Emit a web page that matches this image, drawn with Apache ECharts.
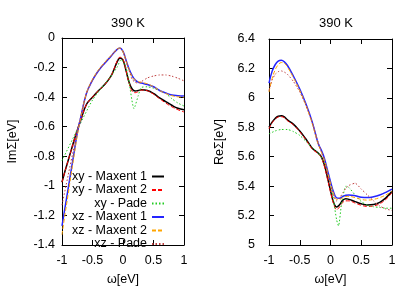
<!DOCTYPE html>
<html>
<head>
<meta charset="utf-8">
<script src="https://cdn.jsdelivr.net/npm/echarts@6/dist/echarts.min.js"></script>
<style>
html, body { margin: 0; padding: 0; background: #fff; }
#chart { width: 415px; height: 291px; }
</style>
</head>
<body>
<div id="chart"></div>
<script>
// common frequency grid for the Maxent curves
const omega = [-1, -0.95, -0.9, -0.85, -0.8, -0.75, -0.7, -0.6, -0.5, -0.4, -0.3, -0.2, -0.15, -0.1, -0.05,
    0, 0.05, 0.1, 0.15, 0.2, 0.25, 0.3, 0.4, 0.5, 0.6, 0.7, 0.8, 0.9, 1];

// Im Sigma (left panel)
const imXyMaxent1 = [-0.975, -0.9, -0.83, -0.76, -0.69, -0.625, -0.565, -0.45, -0.40, -0.355, -0.315, -0.26, -0.215, -0.165, -0.135,
    -0.15, -0.22, -0.30, -0.345, -0.358, -0.355, -0.35, -0.355, -0.375, -0.405, -0.43, -0.455, -0.475, -0.485];
const imXyMaxent2 = [-0.975, -0.9, -0.83, -0.76, -0.69, -0.625, -0.565, -0.45, -0.40, -0.355, -0.315, -0.26, -0.212, -0.16, -0.13,
    -0.145, -0.22, -0.305, -0.36, -0.37, -0.362, -0.352, -0.357, -0.38, -0.41, -0.44, -0.465, -0.485, -0.50];
const imXzMaxent1 = [-1.27, -1.145, -1.02, -0.895, -0.77, -0.645, -0.55, -0.375, -0.285, -0.22, -0.17, -0.125, -0.10, -0.078, -0.068,
    -0.09, -0.15, -0.21, -0.255, -0.285, -0.298, -0.305, -0.315, -0.33, -0.355, -0.372, -0.386, -0.39, -0.392];
const imXzMaxent2 = [-1.33, -1.19, -1.06, -0.92, -0.79, -0.66, -0.555, -0.375, -0.28, -0.215, -0.165, -0.12, -0.098, -0.075, -0.068,
    -0.095, -0.155, -0.215, -0.26, -0.285, -0.295, -0.30, -0.31, -0.33, -0.355, -0.375, -0.39, -0.398, -0.40];
const omegaImXyPade = [-1, -0.75, -0.5, -0.3, -0.2, -0.1, -0.03, 0.05, 0.1, 0.18, 0.25, 0.3, 0.4, 0.5, 0.6, 0.7, 0.8, 0.9, 1];
const imXyPade = [-0.83, -0.62, -0.42, -0.31, -0.26, -0.2, -0.145, -0.2, -0.3, -0.478, -0.39, -0.335, -0.33, -0.34, -0.355, -0.375, -0.41, -0.44, -0.46];
const omegaImXzPade = [-1, -0.9, -0.8, -0.75, -0.7, -0.6, -0.5, -0.4, -0.3, -0.2, -0.1, -0.05, 0, 0.05, 0.1, 0.15, 0.2, 0.25, 0.3, 0.4, 0.5, 0.6, 0.7, 0.8, 0.9, 1];
const imXzPade = [-1.13, -0.93, -0.73, -0.63, -0.545, -0.375, -0.285, -0.22, -0.17, -0.125, -0.078, -0.07, -0.09, -0.15, -0.22, -0.28, -0.30, -0.305, -0.295, -0.27, -0.257, -0.25, -0.25, -0.258, -0.272, -0.29];

// Re Sigma (right panel)
const reXyMaxent1 = [5.80, 5.835, 5.86, 5.875, 5.878, 5.87, 5.85, 5.82, 5.775, 5.72, 5.66, 5.625, 5.60, 5.545, 5.46,
    5.37, 5.29, 5.258, 5.275, 5.305, 5.315, 5.31, 5.295, 5.28, 5.272, 5.275, 5.29, 5.32, 5.365];
const reXyMaxent2 = [5.79, 5.83, 5.855, 5.87, 5.872, 5.865, 5.845, 5.815, 5.77, 5.715, 5.655, 5.62, 5.595, 5.535, 5.45,
    5.36, 5.28, 5.24, 5.26, 5.29, 5.30, 5.30, 5.285, 5.27, 5.262, 5.265, 5.28, 5.31, 5.355];
const reXzMaxent1 = [6.10, 6.18, 6.225, 6.25, 6.255, 6.245, 6.22, 6.145, 6.06, 5.96, 5.84, 5.69, 5.645, 5.59, 5.51,
    5.43, 5.36, 5.32, 5.318, 5.33, 5.338, 5.34, 5.335, 5.325, 5.322, 5.328, 5.34, 5.358, 5.38];
const reXzMaxent2 = [6.04, 6.13, 6.19, 6.225, 6.24, 6.235, 6.21, 6.135, 6.05, 5.95, 5.83, 5.685, 5.635, 5.58, 5.50,
    5.42, 5.35, 5.31, 5.31, 5.322, 5.33, 5.33, 5.322, 5.31, 5.305, 5.31, 5.322, 5.34, 5.365];
const omegaReXyPade = [-1, -0.9, -0.8, -0.7, -0.6, -0.5, -0.4, -0.3, -0.2, -0.1, -0.05, 0, 0.05, 0.1, 0.13, 0.18, 0.25, 0.3, 0.4, 0.5, 0.6, 0.7, 0.8, 0.9, 1];
const reXyPade = [5.755, 5.775, 5.785, 5.785, 5.77, 5.745, 5.705, 5.665, 5.625, 5.56, 5.50, 5.42, 5.30, 5.17, 5.13, 5.28, 5.40, 5.39, 5.34, 5.295, 5.27, 5.26, 5.255, 5.25, 5.25];
const reXzPade = [6.05, 6.12, 6.16, 6.178, 6.183, 6.175, 6.16, 6.11, 6.04, 5.95, 5.835, 5.695, 5.635, 5.57, 5.49,
    5.41, 5.33, 5.30, 5.32, 5.355, 5.385, 5.405, 5.42, 5.38, 5.34, 5.30, 5.265, 5.245, 5.235];

const seriesNames = ['xy - Maxent 1', 'xy - Maxent 2', 'xy - Pade', 'xz - Maxent 1', 'xz - Maxent 2', 'xz - Pade'];
const xTicks = { min: -1, max: 1, interval: 0.5 };

const FONT = 'Liberation Sans, Arial, sans-serif';
const FS = 12.5;

function pairs(xs, ys) {
    return xs.map((x, i) => [x, ys[i]]);
}

// line styles per series, same order as seriesNames
const styles = [
    { color: '#000000', width: 1.5, type: 'solid' },
    { color: '#ff0000', width: 1, type: [4, 2] },
    { color: '#22cc22', width: 1, type: [1.5, 2] },
    { color: '#2424ff', width: 1.5, type: 'solid' },
    { color: '#ffa500', width: 1, type: [4, 2] },
    { color: '#c04040', width: 1, type: [1.5, 2] }
];

function line(i, data, xi, yi) {
    return {
        name: seriesNames[i],
        type: 'line',
        xAxisIndex: xi,
        yAxisIndex: yi,
        data: data,
        showSymbol: false,
        symbol: 'none',
        smooth: i === 2 || i === 5 ? 0.2 : 0.4,
        lineStyle: styles[i],
        itemStyle: { color: styles[i].color },
        z: 2 + i
    };
}

function xAxis(grid, pos) {
    return {
        type: 'value', gridIndex: grid, position: pos,
        min: xTicks.min, max: xTicks.max, interval: xTicks.interval,
        axisLine: { show: true, onZero: false, lineStyle: { color: '#000', width: 1 } },
        axisTick: { show: true, inside: true, length: 5, lineStyle: { color: '#000' } },
        axisLabel: { show: pos === 'bottom', margin: 9, color: '#000', fontSize: FS, fontFamily: FONT },
        splitLine: { show: false },
        name: pos === 'bottom' ? 'ω[eV]' : '',
        nameLocation: 'middle', nameGap: 28,
        nameTextStyle: { color: '#000', fontSize: FS, fontFamily: FONT }
    };
}

function yAxis(grid, pos, min, max, name, margin) {
    return {
        type: 'value', gridIndex: grid, position: pos,
        min: min, max: max, interval: 0.2,
        axisLine: { show: true, onZero: false, lineStyle: { color: '#000', width: 1 } },
        axisTick: { show: true, inside: true, length: 5, lineStyle: { color: '#000' } },
        axisLabel: { show: pos === 'left', margin: margin, color: '#000', fontSize: FS, fontFamily: FONT },
        splitLine: { show: false },
        name: pos === 'left' ? name : '',
        nameLocation: 'middle', nameGap: 43,
        nameTextStyle: { color: '#000', fontSize: FS, fontFamily: FONT }
    };
}

const chart = echarts.init(document.getElementById('chart'), null, { renderer: 'canvas' });

chart.setOption({
    animation: false,
    backgroundColor: '#fff',
    title: [
        { text: '390 K', left: 123, top: 12, textAlign: 'center',
          textStyle: { fontSize: 13, fontWeight: 'normal', color: '#000', fontFamily: FONT } },
        { text: '390 K', left: 331, top: 12, textAlign: 'center',
          textStyle: { fontSize: 13, fontWeight: 'normal', color: '#000', fontFamily: FONT } }
    ],
    grid: [
        { left: 62, top: 38, width: 122, height: 211 },
        { left: 269, top: 39, width: 123, height: 211 }
    ],
    legend: {
        data: seriesNames,
        orient: 'vertical',
        align: 'right',
        right: 245,
        top: 165,
        itemWidth: 12,
        itemHeight: 1,
        itemGap: 0.5,
        itemStyle: { opacity: 0 },
        textStyle: { color: '#000', fontSize: FS, fontFamily: FONT },
        selectedMode: false
    },
    xAxis: [xAxis(0, 'bottom'), xAxis(0, 'top'), xAxis(1, 'bottom'), xAxis(1, 'top')],
    yAxis: [
        yAxis(0, 'left', -1.4, 0, 'ImΣ[eV]', 7),
        yAxis(0, 'right', -1.4, 0, '', 7),
        yAxis(1, 'left', 5, 6.4, 'ReΣ[eV]', 14),
        yAxis(1, 'right', 5, 6.4, '', 14)
    ],
    series: [
        line(0, pairs(omega, imXyMaxent1), 0, 0),
        line(1, pairs(omega, imXyMaxent2), 0, 0),
        line(2, pairs(omegaImXyPade, imXyPade), 0, 0),
        line(3, pairs(omega, imXzMaxent1), 0, 0),
        line(4, pairs(omega, imXzMaxent2), 0, 0),
        line(5, pairs(omegaImXzPade, imXzPade), 0, 0),
        line(0, pairs(omega, reXyMaxent1), 2, 2),
        line(1, pairs(omega, reXyMaxent2), 2, 2),
        line(2, pairs(omegaReXyPade, reXyPade), 2, 2),
        line(3, pairs(omega, reXzMaxent1), 2, 2),
        line(4, pairs(omega, reXzMaxent2), 2, 2),
        line(5, pairs(omega, reXzPade), 2, 2)
    ]
});

window.addEventListener('resize', () => chart.resize());
</script>
</body>
</html>
